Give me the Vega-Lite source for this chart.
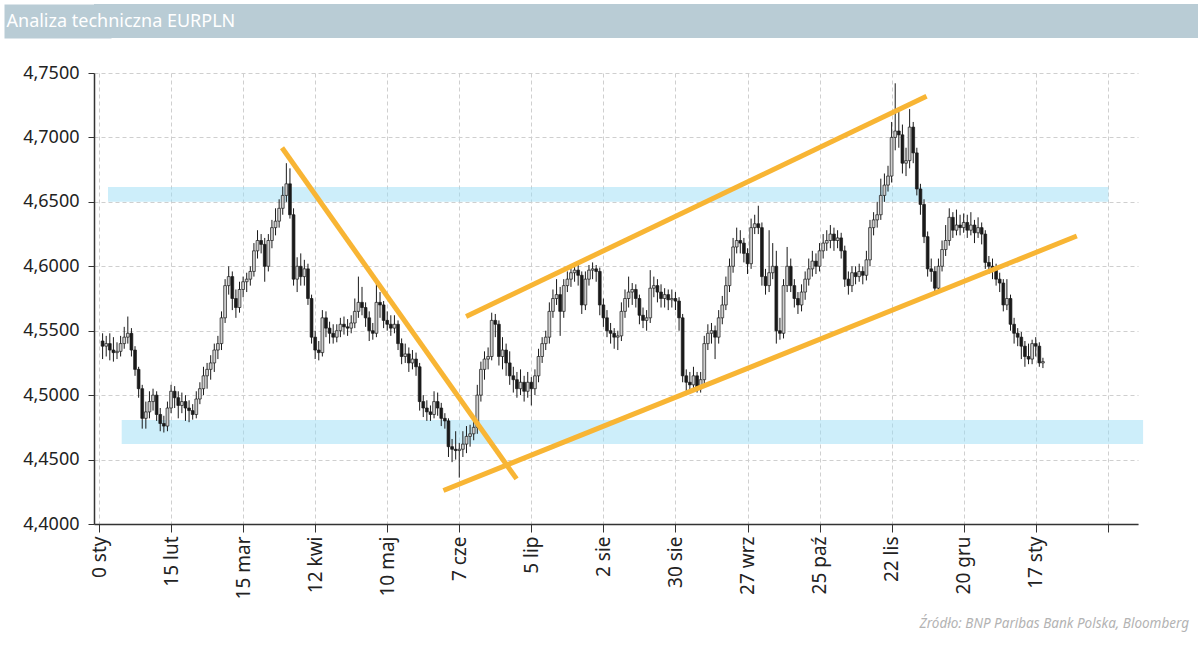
{
"$schema": "https://vega.github.io/schema/vega-lite/v6.json",
"background": "white",
"padding": {"left": -4, "top": -4, "right": 3, "bottom": 4},
"config": {"font": "Noto Sans", "view": {"stroke": null}},
"title": {"text": "Źródło:  BNP Paribas Bank Polska, Bloomberg", "orient": "bottom", "anchor": "end", "frame": "bounds", "fontStyle": "italic", "fontWeight": "normal", "fontSize": 13.5, "color": "#b3b3b3", "offset": 18, "dx": -9},
"columns": 1,
"spacing": 18,
"datasets": {
"candles": [
{"t":1,"o":4.542,"h":4.548,"l":4.528,"c":4.538},
{"t":2,"o":4.538,"h":4.546,"l":4.530,"c":4.540},
{"t":3,"o":4.540,"h":4.548,"l":4.527,"c":4.535},
{"t":4,"o":4.535,"h":4.545,"l":4.526,"c":4.533},
{"t":5,"o":4.533,"h":4.541,"l":4.528,"c":4.534},
{"t":6,"o":4.534,"h":4.546,"l":4.530,"c":4.540},
{"t":7,"o":4.540,"h":4.553,"l":4.536,"c":4.545},
{"t":8,"o":4.545,"h":4.561,"l":4.540,"c":4.548},
{"t":9,"o":4.548,"h":4.552,"l":4.530,"c":4.535},
{"t":10,"o":4.535,"h":4.538,"l":4.515,"c":4.520},
{"t":11,"o":4.520,"h":4.522,"l":4.498,"c":4.505},
{"t":12,"o":4.505,"h":4.508,"l":4.474,"c":4.482},
{"t":13,"o":4.482,"h":4.495,"l":4.474,"c":4.487},
{"t":14,"o":4.487,"h":4.503,"l":4.482,"c":4.495},
{"t":15,"o":4.495,"h":4.505,"l":4.488,"c":4.500},
{"t":16,"o":4.500,"h":4.503,"l":4.480,"c":4.485},
{"t":17,"o":4.485,"h":4.490,"l":4.472,"c":4.478},
{"t":18,"o":4.478,"h":4.484,"l":4.471,"c":4.476},
{"t":19,"o":4.476,"h":4.495,"l":4.472,"c":4.490},
{"t":20,"o":4.490,"h":4.508,"l":4.486,"c":4.503},
{"t":21,"o":4.503,"h":4.507,"l":4.490,"c":4.498},
{"t":22,"o":4.498,"h":4.503,"l":4.482,"c":4.492},
{"t":23,"o":4.492,"h":4.502,"l":4.486,"c":4.495},
{"t":24,"o":4.495,"h":4.500,"l":4.480,"c":4.490},
{"t":25,"o":4.490,"h":4.496,"l":4.479,"c":4.488},
{"t":26,"o":4.488,"h":4.493,"l":4.481,"c":4.485},
{"t":27,"o":4.485,"h":4.503,"l":4.482,"c":4.497},
{"t":28,"o":4.497,"h":4.510,"l":4.493,"c":4.505},
{"t":29,"o":4.505,"h":4.522,"l":4.500,"c":4.515},
{"t":30,"o":4.515,"h":4.525,"l":4.505,"c":4.520},
{"t":31,"o":4.520,"h":4.531,"l":4.512,"c":4.525},
{"t":32,"o":4.525,"h":4.540,"l":4.518,"c":4.535},
{"t":33,"o":4.535,"h":4.546,"l":4.528,"c":4.540},
{"t":34,"o":4.540,"h":4.565,"l":4.535,"c":4.560},
{"t":35,"o":4.560,"h":4.590,"l":4.556,"c":4.585},
{"t":36,"o":4.585,"h":4.600,"l":4.578,"c":4.592},
{"t":37,"o":4.592,"h":4.596,"l":4.566,"c":4.575},
{"t":38,"o":4.575,"h":4.582,"l":4.560,"c":4.568},
{"t":39,"o":4.568,"h":4.588,"l":4.564,"c":4.582},
{"t":40,"o":4.582,"h":4.592,"l":4.576,"c":4.588},
{"t":41,"o":4.588,"h":4.595,"l":4.580,"c":4.590},
{"t":42,"o":4.590,"h":4.600,"l":4.585,"c":4.596},
{"t":43,"o":4.596,"h":4.618,"l":4.592,"c":4.612},
{"t":44,"o":4.612,"h":4.628,"l":4.606,"c":4.620},
{"t":45,"o":4.620,"h":4.625,"l":4.610,"c":4.617},
{"t":46,"o":4.617,"h":4.622,"l":4.588,"c":4.600},
{"t":47,"o":4.600,"h":4.625,"l":4.596,"c":4.620},
{"t":48,"o":4.620,"h":4.636,"l":4.614,"c":4.630},
{"t":49,"o":4.630,"h":4.645,"l":4.624,"c":4.635},
{"t":50,"o":4.635,"h":4.652,"l":4.630,"c":4.645},
{"t":51,"o":4.645,"h":4.662,"l":4.640,"c":4.655},
{"t":52,"o":4.655,"h":4.680,"l":4.650,"c":4.664},
{"t":53,"o":4.664,"h":4.676,"l":4.637,"c":4.640},
{"t":54,"o":4.640,"h":4.645,"l":4.585,"c":4.590},
{"t":55,"o":4.590,"h":4.607,"l":4.580,"c":4.600},
{"t":56,"o":4.600,"h":4.610,"l":4.585,"c":4.592},
{"t":57,"o":4.592,"h":4.605,"l":4.585,"c":4.598},
{"t":58,"o":4.598,"h":4.602,"l":4.570,"c":4.575},
{"t":59,"o":4.575,"h":4.578,"l":4.540,"c":4.545},
{"t":60,"o":4.545,"h":4.550,"l":4.528,"c":4.535},
{"t":61,"o":4.535,"h":4.542,"l":4.527,"c":4.533},
{"t":62,"o":4.533,"h":4.566,"l":4.530,"c":4.560},
{"t":63,"o":4.560,"h":4.565,"l":4.545,"c":4.552},
{"t":64,"o":4.552,"h":4.557,"l":4.540,"c":4.548},
{"t":65,"o":4.548,"h":4.555,"l":4.540,"c":4.545},
{"t":66,"o":4.545,"h":4.555,"l":4.541,"c":4.550},
{"t":67,"o":4.550,"h":4.560,"l":4.545,"c":4.555},
{"t":68,"o":4.555,"h":4.561,"l":4.547,"c":4.553},
{"t":69,"o":4.553,"h":4.559,"l":4.546,"c":4.552},
{"t":70,"o":4.552,"h":4.562,"l":4.548,"c":4.556},
{"t":71,"o":4.556,"h":4.575,"l":4.552,"c":4.565},
{"t":72,"o":4.565,"h":4.592,"l":4.560,"c":4.572},
{"t":73,"o":4.572,"h":4.584,"l":4.562,"c":4.568},
{"t":74,"o":4.568,"h":4.572,"l":4.553,"c":4.560},
{"t":75,"o":4.560,"h":4.565,"l":4.542,"c":4.550},
{"t":76,"o":4.550,"h":4.556,"l":4.543,"c":4.548},
{"t":77,"o":4.548,"h":4.590,"l":4.545,"c":4.572},
{"t":78,"o":4.572,"h":4.580,"l":4.560,"c":4.570},
{"t":79,"o":4.570,"h":4.573,"l":4.552,"c":4.558},
{"t":80,"o":4.558,"h":4.565,"l":4.550,"c":4.555},
{"t":81,"o":4.555,"h":4.562,"l":4.546,"c":4.552},
{"t":82,"o":4.552,"h":4.562,"l":4.548,"c":4.555},
{"t":83,"o":4.555,"h":4.558,"l":4.535,"c":4.540},
{"t":84,"o":4.540,"h":4.544,"l":4.524,"c":4.530},
{"t":85,"o":4.530,"h":4.540,"l":4.525,"c":4.532},
{"t":86,"o":4.532,"h":4.537,"l":4.518,"c":4.525},
{"t":87,"o":4.525,"h":4.535,"l":4.520,"c":4.528},
{"t":88,"o":4.528,"h":4.533,"l":4.515,"c":4.522},
{"t":89,"o":4.522,"h":4.525,"l":4.488,"c":4.495},
{"t":90,"o":4.495,"h":4.500,"l":4.483,"c":4.490},
{"t":91,"o":4.490,"h":4.496,"l":4.480,"c":4.487},
{"t":92,"o":4.487,"h":4.492,"l":4.480,"c":4.485},
{"t":93,"o":4.485,"h":4.503,"l":4.482,"c":4.495},
{"t":94,"o":4.495,"h":4.502,"l":4.484,"c":4.490},
{"t":95,"o":4.490,"h":4.494,"l":4.476,"c":4.482},
{"t":96,"o":4.482,"h":4.486,"l":4.474,"c":4.480},
{"t":97,"o":4.480,"h":4.482,"l":4.452,"c":4.460},
{"t":98,"o":4.460,"h":4.466,"l":4.448,"c":4.458},
{"t":99,"o":4.458,"h":4.472,"l":4.450,"c":4.457},
{"t":100,"o":4.457,"h":4.463,"l":4.436,"c":4.458},
{"t":101,"o":4.458,"h":4.472,"l":4.452,"c":4.462},
{"t":102,"o":4.462,"h":4.476,"l":4.455,"c":4.468},
{"t":103,"o":4.468,"h":4.477,"l":4.460,"c":4.470},
{"t":104,"o":4.470,"h":4.482,"l":4.465,"c":4.475},
{"t":105,"o":4.475,"h":4.508,"l":4.470,"c":4.500},
{"t":106,"o":4.500,"h":4.526,"l":4.495,"c":4.520},
{"t":107,"o":4.520,"h":4.534,"l":4.512,"c":4.528},
{"t":108,"o":4.528,"h":4.537,"l":4.520,"c":4.530},
{"t":109,"o":4.530,"h":4.564,"l":4.527,"c":4.558},
{"t":110,"o":4.558,"h":4.563,"l":4.545,"c":4.555},
{"t":111,"o":4.555,"h":4.558,"l":4.523,"c":4.530},
{"t":112,"o":4.530,"h":4.545,"l":4.520,"c":4.535},
{"t":113,"o":4.535,"h":4.540,"l":4.515,"c":4.525},
{"t":114,"o":4.525,"h":4.534,"l":4.508,"c":4.515},
{"t":115,"o":4.515,"h":4.522,"l":4.502,"c":4.512},
{"t":116,"o":4.512,"h":4.518,"l":4.498,"c":4.505},
{"t":117,"o":4.505,"h":4.520,"l":4.500,"c":4.510},
{"t":118,"o":4.510,"h":4.515,"l":4.495,"c":4.503},
{"t":119,"o":4.503,"h":4.518,"l":4.498,"c":4.510},
{"t":120,"o":4.510,"h":4.514,"l":4.492,"c":4.505},
{"t":121,"o":4.505,"h":4.520,"l":4.500,"c":4.515},
{"t":122,"o":4.515,"h":4.536,"l":4.510,"c":4.530},
{"t":123,"o":4.530,"h":4.545,"l":4.525,"c":4.540},
{"t":124,"o":4.540,"h":4.550,"l":4.535,"c":4.545},
{"t":125,"o":4.545,"h":4.572,"l":4.540,"c":4.565},
{"t":126,"o":4.565,"h":4.582,"l":4.560,"c":4.575},
{"t":127,"o":4.575,"h":4.590,"l":4.570,"c":4.578},
{"t":128,"o":4.578,"h":4.584,"l":4.546,"c":4.565},
{"t":129,"o":4.565,"h":4.590,"l":4.560,"c":4.585},
{"t":130,"o":4.585,"h":4.596,"l":4.580,"c":4.590},
{"t":131,"o":4.590,"h":4.600,"l":4.584,"c":4.595},
{"t":132,"o":4.595,"h":4.603,"l":4.588,"c":4.597},
{"t":133,"o":4.597,"h":4.602,"l":4.585,"c":4.593},
{"t":134,"o":4.593,"h":4.596,"l":4.563,"c":4.570},
{"t":135,"o":4.570,"h":4.596,"l":4.566,"c":4.590},
{"t":136,"o":4.590,"h":4.601,"l":4.585,"c":4.597},
{"t":137,"o":4.597,"h":4.603,"l":4.590,"c":4.598},
{"t":138,"o":4.598,"h":4.601,"l":4.588,"c":4.596},
{"t":139,"o":4.596,"h":4.599,"l":4.562,"c":4.570},
{"t":140,"o":4.570,"h":4.575,"l":4.553,"c":4.560},
{"t":141,"o":4.560,"h":4.566,"l":4.545,"c":4.550},
{"t":142,"o":4.550,"h":4.556,"l":4.540,"c":4.548},
{"t":143,"o":4.548,"h":4.552,"l":4.536,"c":4.545},
{"t":144,"o":4.545,"h":4.550,"l":4.535,"c":4.546},
{"t":145,"o":4.546,"h":4.572,"l":4.542,"c":4.565},
{"t":146,"o":4.565,"h":4.582,"l":4.560,"c":4.575},
{"t":147,"o":4.575,"h":4.592,"l":4.568,"c":4.580},
{"t":148,"o":4.580,"h":4.587,"l":4.570,"c":4.582},
{"t":149,"o":4.582,"h":4.586,"l":4.568,"c":4.575},
{"t":150,"o":4.575,"h":4.578,"l":4.555,"c":4.562},
{"t":151,"o":4.562,"h":4.568,"l":4.552,"c":4.558},
{"t":152,"o":4.558,"h":4.566,"l":4.550,"c":4.560},
{"t":153,"o":4.560,"h":4.597,"l":4.556,"c":4.583},
{"t":154,"o":4.583,"h":4.592,"l":4.576,"c":4.585},
{"t":155,"o":4.585,"h":4.590,"l":4.572,"c":4.580},
{"t":156,"o":4.580,"h":4.586,"l":4.568,"c":4.575},
{"t":157,"o":4.575,"h":4.583,"l":4.568,"c":4.578},
{"t":158,"o":4.578,"h":4.582,"l":4.566,"c":4.574},
{"t":159,"o":4.574,"h":4.582,"l":4.568,"c":4.575},
{"t":160,"o":4.575,"h":4.580,"l":4.566,"c":4.573},
{"t":161,"o":4.573,"h":4.576,"l":4.550,"c":4.560},
{"t":162,"o":4.560,"h":4.563,"l":4.510,"c":4.515},
{"t":163,"o":4.515,"h":4.520,"l":4.503,"c":4.510},
{"t":164,"o":4.510,"h":4.518,"l":4.502,"c":4.508},
{"t":165,"o":4.508,"h":4.522,"l":4.504,"c":4.515},
{"t":166,"o":4.515,"h":4.518,"l":4.502,"c":4.505},
{"t":167,"o":4.505,"h":4.518,"l":4.502,"c":4.512},
{"t":168,"o":4.512,"h":4.546,"l":4.508,"c":4.540},
{"t":169,"o":4.540,"h":4.555,"l":4.535,"c":4.548},
{"t":170,"o":4.548,"h":4.556,"l":4.540,"c":4.550},
{"t":171,"o":4.550,"h":4.554,"l":4.528,"c":4.545},
{"t":172,"o":4.545,"h":4.566,"l":4.540,"c":4.560},
{"t":173,"o":4.560,"h":4.577,"l":4.555,"c":4.570},
{"t":174,"o":4.570,"h":4.592,"l":4.566,"c":4.585},
{"t":175,"o":4.585,"h":4.606,"l":4.580,"c":4.600},
{"t":176,"o":4.600,"h":4.622,"l":4.595,"c":4.615},
{"t":177,"o":4.615,"h":4.630,"l":4.610,"c":4.620},
{"t":178,"o":4.620,"h":4.628,"l":4.610,"c":4.618},
{"t":179,"o":4.618,"h":4.622,"l":4.603,"c":4.610},
{"t":180,"o":4.610,"h":4.614,"l":4.594,"c":4.602},
{"t":181,"o":4.602,"h":4.637,"l":4.598,"c":4.630},
{"t":182,"o":4.630,"h":4.640,"l":4.625,"c":4.633},
{"t":183,"o":4.633,"h":4.647,"l":4.625,"c":4.630},
{"t":184,"o":4.630,"h":4.634,"l":4.585,"c":4.592},
{"t":185,"o":4.592,"h":4.598,"l":4.578,"c":4.585},
{"t":186,"o":4.585,"h":4.628,"l":4.580,"c":4.595},
{"t":187,"o":4.595,"h":4.618,"l":4.590,"c":4.600},
{"t":188,"o":4.600,"h":4.612,"l":4.540,"c":4.550},
{"t":189,"o":4.550,"h":4.560,"l":4.543,"c":4.548},
{"t":190,"o":4.548,"h":4.590,"l":4.544,"c":4.585},
{"t":191,"o":4.585,"h":4.615,"l":4.580,"c":4.600},
{"t":192,"o":4.600,"h":4.606,"l":4.580,"c":4.585},
{"t":193,"o":4.585,"h":4.590,"l":4.568,"c":4.575},
{"t":194,"o":4.575,"h":4.580,"l":4.563,"c":4.570},
{"t":195,"o":4.570,"h":4.586,"l":4.565,"c":4.580},
{"t":196,"o":4.580,"h":4.596,"l":4.574,"c":4.590},
{"t":197,"o":4.590,"h":4.606,"l":4.585,"c":4.598},
{"t":198,"o":4.598,"h":4.612,"l":4.592,"c":4.604},
{"t":199,"o":4.604,"h":4.610,"l":4.594,"c":4.600},
{"t":200,"o":4.600,"h":4.618,"l":4.596,"c":4.612},
{"t":201,"o":4.612,"h":4.625,"l":4.606,"c":4.618},
{"t":202,"o":4.618,"h":4.628,"l":4.612,"c":4.620},
{"t":203,"o":4.620,"h":4.632,"l":4.614,"c":4.625},
{"t":204,"o":4.625,"h":4.630,"l":4.612,"c":4.620},
{"t":205,"o":4.620,"h":4.628,"l":4.614,"c":4.622},
{"t":206,"o":4.622,"h":4.626,"l":4.606,"c":4.612},
{"t":207,"o":4.612,"h":4.616,"l":4.584,"c":4.590},
{"t":208,"o":4.590,"h":4.596,"l":4.578,"c":4.585},
{"t":209,"o":4.585,"h":4.600,"l":4.580,"c":4.595},
{"t":210,"o":4.595,"h":4.600,"l":4.586,"c":4.592},
{"t":211,"o":4.592,"h":4.602,"l":4.588,"c":4.596},
{"t":212,"o":4.596,"h":4.600,"l":4.586,"c":4.593},
{"t":213,"o":4.593,"h":4.612,"l":4.589,"c":4.605},
{"t":214,"o":4.605,"h":4.636,"l":4.600,"c":4.630},
{"t":215,"o":4.630,"h":4.642,"l":4.624,"c":4.636},
{"t":216,"o":4.636,"h":4.650,"l":4.630,"c":4.640},
{"t":217,"o":4.640,"h":4.668,"l":4.636,"c":4.655},
{"t":218,"o":4.655,"h":4.672,"l":4.650,"c":4.663},
{"t":219,"o":4.663,"h":4.678,"l":4.658,"c":4.670},
{"t":220,"o":4.670,"h":4.712,"l":4.665,"c":4.700},
{"t":221,"o":4.700,"h":4.742,"l":4.690,"c":4.705},
{"t":222,"o":4.705,"h":4.720,"l":4.692,"c":4.702},
{"t":223,"o":4.702,"h":4.710,"l":4.672,"c":4.680},
{"t":224,"o":4.680,"h":4.692,"l":4.670,"c":4.682},
{"t":225,"o":4.682,"h":4.722,"l":4.676,"c":4.708},
{"t":226,"o":4.708,"h":4.712,"l":4.680,"c":4.688},
{"t":227,"o":4.688,"h":4.692,"l":4.655,"c":4.660},
{"t":228,"o":4.660,"h":4.664,"l":4.640,"c":4.648},
{"t":229,"o":4.648,"h":4.652,"l":4.618,"c":4.623},
{"t":230,"o":4.623,"h":4.627,"l":4.592,"c":4.598},
{"t":231,"o":4.598,"h":4.606,"l":4.588,"c":4.596},
{"t":232,"o":4.596,"h":4.600,"l":4.580,"c":4.583},
{"t":233,"o":4.583,"h":4.606,"l":4.580,"c":4.600},
{"t":234,"o":4.600,"h":4.620,"l":4.596,"c":4.613},
{"t":235,"o":4.613,"h":4.632,"l":4.608,"c":4.620},
{"t":236,"o":4.620,"h":4.645,"l":4.616,"c":4.638},
{"t":237,"o":4.638,"h":4.642,"l":4.622,"c":4.628},
{"t":238,"o":4.628,"h":4.644,"l":4.624,"c":4.632},
{"t":239,"o":4.632,"h":4.640,"l":4.624,"c":4.630},
{"t":240,"o":4.630,"h":4.641,"l":4.626,"c":4.634},
{"t":241,"o":4.634,"h":4.640,"l":4.622,"c":4.628},
{"t":242,"o":4.628,"h":4.642,"l":4.624,"c":4.632},
{"t":243,"o":4.632,"h":4.636,"l":4.618,"c":4.626},
{"t":244,"o":4.626,"h":4.638,"l":4.622,"c":4.630},
{"t":245,"o":4.630,"h":4.634,"l":4.617,"c":4.625},
{"t":246,"o":4.625,"h":4.628,"l":4.598,"c":4.603},
{"t":247,"o":4.603,"h":4.608,"l":4.594,"c":4.600},
{"t":248,"o":4.600,"h":4.606,"l":4.590,"c":4.598},
{"t":249,"o":4.598,"h":4.602,"l":4.585,"c":4.590},
{"t":250,"o":4.590,"h":4.595,"l":4.580,"c":4.587},
{"t":251,"o":4.587,"h":4.590,"l":4.565,"c":4.570},
{"t":252,"o":4.570,"h":4.590,"l":4.566,"c":4.575},
{"t":253,"o":4.575,"h":4.578,"l":4.550,"c":4.555},
{"t":254,"o":4.555,"h":4.560,"l":4.540,"c":4.548},
{"t":255,"o":4.548,"h":4.552,"l":4.538,"c":4.545},
{"t":256,"o":4.545,"h":4.549,"l":4.528,"c":4.538},
{"t":257,"o":4.538,"h":4.542,"l":4.522,"c":4.530},
{"t":258,"o":4.530,"h":4.540,"l":4.524,"c":4.528},
{"t":259,"o":4.528,"h":4.543,"l":4.524,"c":4.540},
{"t":260,"o":4.540,"h":4.545,"l":4.530,"c":4.538},
{"t":261,"o":4.538,"h":4.541,"l":4.522,"c":4.525},
{"t":262,"o":4.525,"h":4.529,"l":4.521,"c":4.526}
],
"lines": [
{"id":"down","t":50.8,"v":4.692},{"id":"down","t":115.9,"v":4.435},
{"id":"low","t":95.6,"v":4.426},{"id":"low","t":271.4,"v":4.6235},
{"id":"up","t":101.9,"v":4.561},{"id":"up","t":229.7,"v":4.732}
],
"bands": [
{"t":2.5,"t1":280.2,"v":4.650,"v1":4.6615},
{"t":6.3,"t1":289.8,"v":4.462,"v1":4.4807}
],
"header": [{"label": "Analiza techniczna EURPLN"}]
},
"concat": [
{
"width": 1104, "height": 34,
"view": {"fill": "#b9ccd5", "stroke": null},
"data": {"name": "header"},
"mark": {"type": "text", "opacity": 0},
"encoding": {
"text": {"field": "label"},
"y": {"field": "label", "type": "nominal",
"axis": {"orient": "left", "title": null, "domain": false, "grid": false,
"tickSize": 73, "tickWidth": 34, "tickColor": "#b9ccd5", "tickCap": "square",
"labelAlign": "left", "labelBaseline": "middle", "labelPadding": 15, "labelLimit": 1000,
"labelColor": "white", "labelFontSize": 18, "labelFont": "Noto Sans"}}
}
},
{
"width": 1044, "height": 451,
"encoding": {
"x": {"type": "quantitative", "scale": {"domain": [0, 287], "nice": false, "zero": false},
"axis": {"values": [0,20,40,60,80,100,120,140,160,180,200,220,240,260,280],
"labelExpr": "['0 sty','15 lut','15 mar','12 kwi','10 maj','7 cze','5 lip','2 sie','30 sie','27 wrz','25 paź','22 lis','20 gru','17 sty',''][round(datum.value/20)]",
"labelAngle": 270, "labelAlign": "right", "labelBaseline": "middle", "labelFontSize": 19, "labelColor": "#222", "labelPadding": 4, "labelFlush": false, "labelOverlap": false, "labelBound": false,
"tickSize": 8, "tickColor": "#333", "domainColor": "#333", "domainWidth": 1.5,
"grid": true, "gridDash": [4, 3], "gridColor": "#cfcfcf", "title": null}},
"y": {"type": "quantitative", "scale": {"domain": [4.4, 4.75], "nice": false, "zero": false},
"axis": {"values": [4.4,4.45,4.5,4.55,4.6,4.65,4.7,4.75],
"labelExpr": "replace(format(datum.value, '.4f'), '.', ',')",
"labelFontSize": 18, "labelColor": "#222", "labelPadding": 9, "labelFlush": false, "labelOverlap": false,
"tickSize": 6, "tickColor": "#333", "domainColor": "#333", "domainWidth": 1.5, "minExtent": 90,
"grid": true, "gridDash": [4, 3], "gridColor": "#cfcfcf", "title": null}}
},
"layer": [
{"data": {"name": "bands"},
"mark": {"type": "rect", "color": "#9bddf5", "opacity": 0.5, "clip": false},
"encoding": {"x": {"field": "t"}, "x2": {"field": "t1"}, "y": {"field": "v"}, "y2": {"field": "v1"}}},
{"data": {"name": "candles"},
"mark": {"type": "rule", "color": "#1a1a1a", "strokeWidth": 1},
"encoding": {"x": {"field": "t"}, "y": {"field": "l"}, "y2": {"field": "h"}}},
{"data": {"name": "candles"},
"mark": {"type": "bar", "size": 2.8, "stroke": "#1a1a1a", "strokeWidth": 0.7},
"encoding": {"x": {"field": "t"}, "y": {"field": "o"}, "y2": {"field": "c"},
"fill": {"condition": {"test": "datum.c < datum.o", "value": "#1a1a1a"}, "value": "#cfcfcf"}}},
{"data": {"name": "lines"},
"mark": {"type": "line", "color": "#f8b534", "strokeWidth": 5, "strokeCap": "butt"},
"encoding": {"x": {"field": "t"}, "y": {"field": "v"}, "detail": {"field": "id"}}}
]
}
]
}
